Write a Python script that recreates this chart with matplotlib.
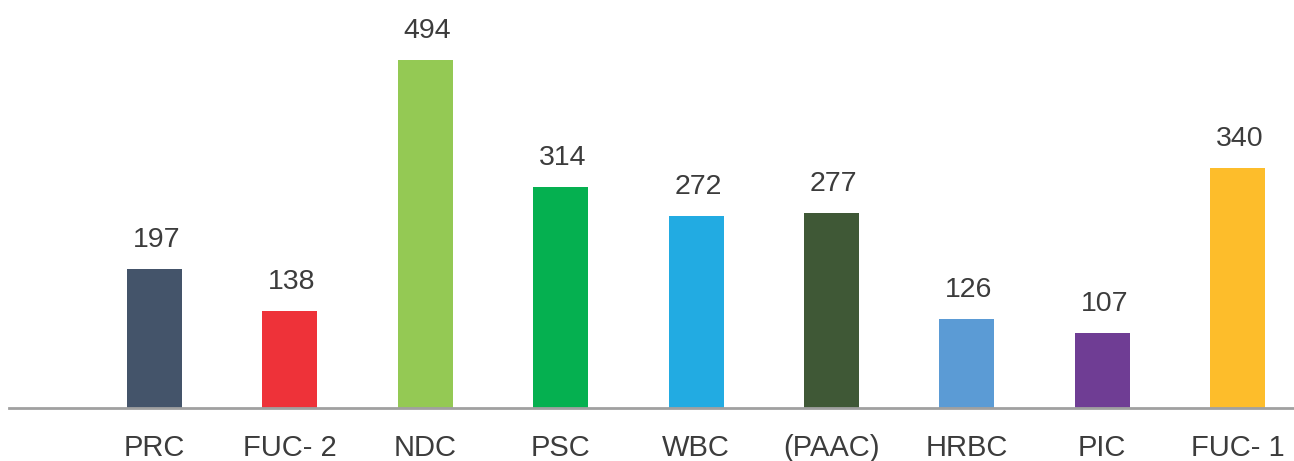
import matplotlib.pyplot as plt
import numpy as np

# Data
categories = ["PRC", "FUC- 2", "NDC", "PSC", "WBC", "(PAAC)", "HRBC", "PIC", "FUC- 1"]
values = [197, 138, 494, 314, 272, 277, 126, 107, 340]
colors = ["#44546A", "#EE3239", "#94C954", "#05B050", "#22ABE2",
          "#3F5836", "#5B9BD5", "#6F3D94", "#FDBD2B"]

TEXT = "#3C3C3C"
plt.rcParams["font.family"] = ["Liberation Sans", "DejaVu Sans"]

fig = plt.figure(figsize=(12.94, 4.61), dpi=100)
ax = fig.add_axes([9 / 1294, 53 / 461, 1285 / 1294, 408 / 461])

x = np.arange(len(categories))
ax.bar(x, values, width=0.406, color=colors, zorder=2)

for xi, v in zip(x, values):
    ax.annotate(str(v), (xi, v), xytext=(1.5, 15.8), textcoords="offset points",
                ha="center", va="baseline", fontsize=20.5, color=TEXT)

ax.set_xlim(-1.075, 8.417)
ax.set_ylim(0, 579)

ax.set_xticks(x)
ax.set_xticklabels(categories, fontsize=21, color=TEXT)
ax.tick_params(axis="x", length=0, pad=18.5)
ax.set_yticks([])

for side in ["top", "right", "left"]:
    ax.spines[side].set_visible(False)
ax.spines["bottom"].set_color("#A0A0A0")
ax.spines["bottom"].set_linewidth(2)

fig.savefig("out.png", dpi=100)
